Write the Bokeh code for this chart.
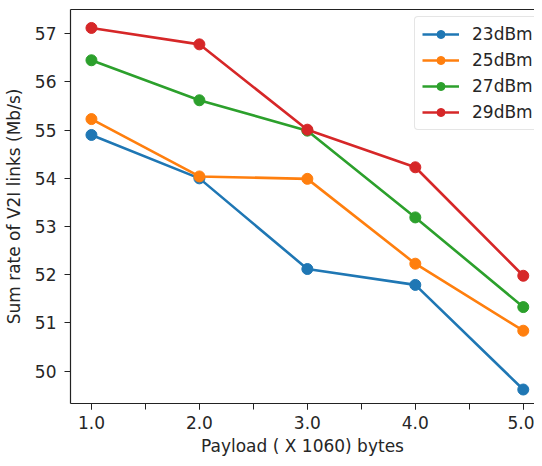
from bokeh.plotting import figure
from bokeh.models import (Legend, LegendItem, LinearAxis, SingleIntervalTicker,
                          FixedTicker, NumeralTickFormatter, Range1d)
from bokeh.embed import file_html
from bokeh.resources import INLINE

payload = [1.0, 2.0, 3.0, 4.0, 5.0]
p23 = [54.90, 54.00, 52.12, 51.79, 49.62]
p25 = [55.23, 54.04, 53.99, 52.23, 50.84]
p27 = [56.45, 55.62, 54.99, 53.19, 51.33]
p29 = [57.12, 56.78, 55.01, 54.23, 51.98]
labels = ["23dBm", "25dBm", "27dBm", "29dBm"]
colors = ["#1f77b4", "#ff7f0e", "#2ca02c", "#d62728"]
series = [p23, p25, p27, p29]

FONT = "DejaVu Sans"
FS = "17px"

p = figure(width=534, height=458, output_backend="svg", toolbar_location=None,
           x_range=Range1d(0.806, 5.104), y_range=Range1d(49.33, 57.503),
           min_border_left=69, min_border_right=0, min_border_top=9,
           min_border_bottom=54)
p.outline_line_color = None
p.xgrid.grid_line_color = None
p.ygrid.grid_line_color = None
p.background_fill_color = "white"
p.border_fill_color = "white"

items = []
for lab, col, ys in zip(labels, colors, series):
    r1 = p.line(payload, ys, line_color=col, line_width=2.6)
    r2 = p.scatter(payload, ys, size=11, fill_color=col, line_color=col, marker="circle")
    items.append(LegendItem(label=lab, renderers=[r1, r2]))

xa = p.xaxis[0]
xa.ticker = SingleIntervalTicker(interval=1, num_minor_ticks=2)
xa.formatter = NumeralTickFormatter(format="0.0")
xa.minor_tick_out = 6
xa.minor_tick_in = 0
ya = p.yaxis[0]
ya.ticker = SingleIntervalTicker(interval=1, num_minor_ticks=0)
for ax in (xa, ya):
    ax.axis_line_color = "#222222"
    ax.axis_line_width = 1.2
    ax.major_tick_line_color = "#222222"
    ax.major_tick_out = 6
    ax.major_tick_in = 0
    ax.major_label_text_font = FONT
    ax.major_label_text_font_size = FS
    ax.major_label_text_color = "#262626"
    ax.axis_label_text_font = FONT
    ax.axis_label_text_font_size = FS
    ax.axis_label_text_font_style = "normal"
    ax.axis_label_text_color = "#262626"
xa.minor_tick_line_color = "#222222"
ya.minor_tick_line_color = None
xa.axis_label = "Payload ( X 1060) bytes"
ya.axis_label = "Sum rate of V2I links (Mb/s)"
xa.major_label_standoff = 6
xa.axis_label_standoff = 4
ya.major_label_standoff = 8
ya.axis_label_standoff = 8

top = LinearAxis(ticker=FixedTicker(ticks=[]), major_label_text_font_size="0px",
                 major_tick_out=0, major_tick_in=0, major_label_standoff=0,
                 axis_line_color="#222222", axis_line_width=1.2,
                 minor_tick_line_color=None, major_tick_line_color=None)
p.add_layout(top, "above")

legend = Legend(items=items, location=(344, 273))
legend.label_text_font = FONT
legend.label_text_font_size = FS
legend.label_text_color = "#262626"
legend.glyph_width = 37
legend.glyph_height = 20
legend.label_height = 20
legend.spacing = 6
legend.padding = 7
legend.label_standoff = 13
legend.margin = 0
legend.border_line_color = "#cccccc"
legend.border_line_width = 1
legend.background_fill_color = "white"
legend.background_fill_alpha = 0.8
if "border_radius" in Legend.properties():
    legend.border_radius = 4
p.add_layout(legend, "center")

open("out.html", "w").write(file_html(p, INLINE))
